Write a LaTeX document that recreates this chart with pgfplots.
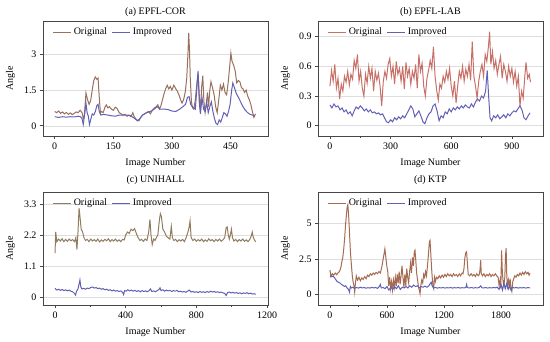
\documentclass[border=0pt]{standalone}
\usepackage{fontspec}
\setmainfont{Liberation Serif}
\usepackage{pgfplots}
\pgfplotsset{compat=1.18}
\definecolor{origA}{RGB}{152,112,92}
\definecolor{origB}{RGB}{198,112,104}
\definecolor{origC}{RGB}{146,124,96}
\definecolor{origD}{RGB}{166,108,82}
\definecolor{impr}{RGB}{98,96,180}
\definecolor{frame}{RGB}{70,70,70}
\pgfplotsset{
  panel/.style={
    scale only axis, width=225bp, anchor=south west,
    axis line style={draw=frame, line width=0.9pt},
    tick align=outside, tick pos=left,
    tick style={draw=frame, line width=0.6pt},
    major tick length=3bp, minor tick length=2bp,
    minor x tick num=1,
    ymajorgrids, major grid style={draw=black!13, line width=0.5pt},
    /pgf/number format/assume math mode=true,
    /pgf/number format/1000 sep={},
    scaled ticks=false,
    ticklabel style={font=\fontsize{10}{12}\selectfont},
    label style={font=\fontsize{10}{12}\selectfont},
    title style={font=\fontsize{10}{12}\selectfont, at={(0.5,1)}, anchor=center},
    xlabel={Image Number}, ylabel={Angle},
    ylabel style={at={(axis description cs:-0.145,0.5)}, anchor=center},
    legend columns=2,
    legend cell align=left,
    legend style={draw=none, fill=none, at={(0.043,0.975)}, anchor=north west,
      font=\fontsize{10}{12}\selectfont, inner xsep=0pt,
      /tikz/every even column/.append style={column sep=3bp}},
    legend image code/.code={\draw[#1, line width=0.9pt] (0bp,0bp) -- (18bp,0bp);},
  },
  top/.style={height=115bp, xlabel style={at={(axis description cs:0.5,-0.232)}, anchor=center},
    title style={yshift=3bp}},
  bot/.style={height=113bp, xlabel style={at={(axis description cs:0.5,-0.239)}, anchor=center},
    title style={yshift=6bp}},
}
\begin{document}
\begin{tikzpicture}
\path[use as bounding box] (0,0) rectangle (550bp,342bp);
% (a)
\begin{axis}[panel, top, at={(43bp,206bp)}, title={(a) EPFL-COR},
  xmin=-30, xmax=546, ymin=-0.43, ymax=4.4,
  xtick={0,150,300,450}, ytick={0,1.5,3}]
\addplot[origA, line width=1pt] coordinates {
(0,0.60) (5,0.55) (10,0.62) (15,0.52) (20,0.58) (25,0.50) (30,0.56) (35,0.48) (40,0.54) (45,0.47)
(50,0.52) (55,0.58) (60,0.55) (65,0.65) (70,0.55) (73,0.30) (76,0.45) (80,1.38) (84,1.10) (88,0.90)
(92,1.05) (96,1.50) (100,1.90) (104,2.05) (108,1.95) (111,2.00) (114,1.20) (117,0.55) (120,0.60) (124,0.55)
(128,0.75) (132,0.88) (136,0.75) (140,0.80) (145,0.70) (150,0.65) (155,0.78) (160,0.72) (165,0.55) (170,0.50)
(175,0.45) (180,0.48) (185,0.40) (190,0.45) (195,0.38) (200,0.55) (203,0.40) (207,0.30) (212,0.20) (216,0.22)
(220,0.35) (225,0.45) (230,0.50) (235,0.55) (240,0.60) (245,0.50) (250,0.65) (255,0.75) (260,0.80) (264,0.88)
(268,0.70) (272,0.85) (276,1.10) (280,1.35) (284,1.55) (288,1.70) (292,1.55) (296,1.65) (300,1.50) (305,1.70)
(310,1.55) (314,1.45) (318,1.30) (322,1.10) (326,0.95) (330,1.10) (334,1.40) (338,2.00) (341,3.00) (343,3.90)
(345,3.20) (347,2.00) (350,1.00) (353,0.75) (356,0.70) (360,1.10) (364,1.80) (367,2.20) (370,1.30) (373,0.60)
(376,1.60) (379,2.10) (382,1.00) (385,0.55) (388,0.90) (391,1.40) (394,0.80) (397,1.50) (400,1.85) (404,1.60)
(408,1.30) (412,0.80) (416,0.55) (420,1.10) (424,1.70) (428,1.50) (432,1.75) (436,1.40) (440,1.30) (444,1.80)
(448,2.50) (451,3.05) (454,2.70) (458,2.55) (462,2.30) (466,1.80) (470,1.90) (474,1.85) (478,1.60) (482,1.55)
(486,1.40) (490,1.50) (494,1.25) (498,1.10) (502,0.90) (506,0.60) (510,0.35) (514,0.50)
};
\addplot[impr, line width=1pt] coordinates {
(0,0.38) (10,0.35) (20,0.38) (30,0.36) (40,0.38) (50,0.37) (60,0.40) (66,0.38) (70,0.30) (73,0.05)
(76,0.40) (80,0.95) (83,0.55) (86,0.40) (89,0.05) (92,0.25) (96,0.50) (100,0.45) (104,0.60) (108,0.85)
(111,0.90) (114,0.60) (118,0.45) (125,0.48) (135,0.45) (145,0.42) (155,0.40) (165,0.45) (175,0.45) (185,0.45)
(195,0.42) (205,0.30) (212,0.22) (218,0.30) (225,0.45) (235,0.55) (245,0.60) (255,0.70) (262,0.80) (270,0.70)
(280,0.70) (290,0.68) (300,0.62) (310,0.60) (320,0.70) (328,0.80) (335,0.90) (340,1.20) (344,1.22) (348,0.90)
(352,0.80) (356,0.75) (360,0.70) (364,1.60) (367,2.30) (370,1.00) (373,0.50) (377,1.20) (381,0.70) (385,0.60)
(389,1.00) (393,0.55) (397,0.80) (401,1.00) (405,0.60) (409,0.30) (413,0.10) (417,0.05) (421,0.25) (425,0.15)
(429,0.35) (433,0.55) (437,0.50) (441,0.40) (445,0.60) (449,0.90) (453,1.50) (456,1.80) (460,1.60) (465,1.35)
(470,1.20) (476,1.00) (482,0.80) (488,0.65) (494,0.55) (500,0.48) (506,0.45) (512,0.42)
};
\legend{Original, Improved}
\end{axis}
% (b)
\begin{axis}[panel, top, at={(318bp,206bp)}, title={(b) EPFL-LAB},
  xmin=-59, xmax=1054, ymin=-0.104, ymax=1.059,
  xtick={0,300,600,900}, ytick={0,0.3,0.6,0.9}]
\addplot[origB, line width=1pt] coordinates {
(0,0.40) (8,0.56) (16,0.45) (24,0.62) (32,0.38) (40,0.48) (48,0.27) (56,0.42) (64,0.35) (72,0.50)
(80,0.44) (88,0.55) (96,0.41) (104,0.52) (112,0.47) (120,0.66) (128,0.58) (136,0.72) (144,0.45) (152,0.55)
(160,0.38) (168,0.30) (176,0.52) (184,0.43) (192,0.60) (200,0.48) (208,0.58) (216,0.35) (224,0.55) (232,0.46)
(240,0.53) (248,0.40) (256,0.20) (264,0.45) (272,0.55) (280,0.48) (288,0.62) (296,0.68) (304,0.50) (312,0.60)
(320,0.42) (328,0.65) (336,0.52) (344,0.58) (352,0.45) (360,0.60) (368,0.37) (376,0.64) (384,0.50) (392,0.58)
(400,0.42) (408,0.55) (416,0.48) (424,0.62) (432,0.38) (440,0.72) (448,0.55) (456,0.63) (464,0.40) (472,0.30)
(480,0.48) (488,0.56) (496,0.66) (504,0.58) (512,0.80) (520,0.50) (528,0.36) (536,0.26) (544,0.42) (552,0.38)
(560,0.50) (568,0.44) (576,0.55) (584,0.47) (592,0.58) (600,0.40) (608,0.30) (616,0.45) (624,0.23) (632,0.40)
(640,0.55) (648,0.48) (656,0.60) (664,0.45) (672,0.57) (680,0.50) (688,0.62) (696,0.46) (704,0.85) (712,0.50)
(720,0.40) (728,0.28) (736,0.45) (744,0.55) (752,0.62) (760,0.50) (768,0.72) (776,0.65) (784,0.80) (790,0.95)
(796,0.62) (804,0.75) (812,0.58) (820,0.66) (828,0.52) (836,0.62) (844,0.70) (852,0.48) (860,0.62) (868,0.55)
(876,0.45) (884,0.60) (892,0.50) (900,0.58) (908,0.44) (916,0.55) (924,0.40) (932,0.50) (940,0.20) (948,0.35)
(956,0.28) (964,0.50) (970,0.64) (978,0.48) (986,0.52) (992,0.44)
};
\addplot[impr, line width=1pt] coordinates {
(0,0.21) (10,0.18) (20,0.22) (30,0.19) (40,0.20) (50,0.16) (60,0.18) (70,0.14) (80,0.16) (90,0.12)
(100,0.14) (110,0.10) (120,0.15) (130,0.19) (140,0.17) (150,0.20) (160,0.18) (170,0.15) (180,0.17) (190,0.14)
(200,0.16) (210,0.13) (220,0.14) (230,0.12) (240,0.13) (250,0.11) (260,0.12) (270,0.08) (280,0.04) (290,0.03)
(300,0.06) (310,0.04) (320,0.08) (330,0.06) (340,0.09) (350,0.07) (360,0.10) (370,0.08) (380,0.12) (390,0.16)
(400,0.20) (410,0.17) (420,0.09) (430,0.12) (440,0.15) (450,0.10) (460,0.04) (470,0.02) (480,0.08) (490,0.12)
(500,0.14) (510,0.20) (520,0.22) (530,0.15) (540,0.05) (550,0.10) (560,0.08) (570,0.14) (580,0.12) (590,0.17)
(600,0.14) (610,0.18) (620,0.16) (630,0.19) (640,0.17) (650,0.20) (660,0.18) (670,0.21) (680,0.19) (690,0.18)
(700,0.22) (710,0.19) (720,0.24) (730,0.27) (740,0.25) (750,0.30) (760,0.28) (770,0.35) (778,0.56) (785,0.30)
(792,0.08) (800,0.05) (810,0.10) (820,0.08) (830,0.11) (840,0.07) (850,0.09) (860,0.11) (870,0.08) (880,0.12)
(890,0.10) (900,0.13) (910,0.15) (920,0.14) (930,0.17) (940,0.20) (950,0.16) (960,0.08) (970,0.06) (980,0.10)
(990,0.13)
};
\legend{Original, Improved}
\end{axis}
% (c)
\begin{axis}[panel, bot, at={(43bp,37bp)}, title={(c) UNIHALL},
  xmin=-68, xmax=1205, ymin=-0.29, ymax=3.72,
  xtick={0,400,800,1200}, ytick={0,1.1,2.2,3.3}]
\addplot[origC, line width=1pt] coordinates {
(0,1.55) (4,2.30) (10,1.95) (20,2.05) (30,1.98) (40,2.06) (50,1.96) (60,2.04) (70,1.97) (80,2.05)
(90,1.99) (100,2.03) (110,1.96) (118,2.10) (124,1.68) (130,2.30) (136,3.15) (142,2.80) (148,2.40) (156,2.30)
(164,2.10) (172,2.00) (182,2.04) (192,1.96) (202,2.05) (212,1.98) (222,2.03) (232,1.97) (242,2.05) (252,1.95)
(262,2.02) (272,1.97) (282,2.04) (292,1.99) (302,2.06) (312,1.96) (322,2.03) (332,1.98) (342,2.05) (352,1.97)
(362,2.02) (372,1.96) (382,2.04) (392,2.02) (400,2.20) (410,2.30) (420,2.25) (430,2.40) (440,2.35) (450,2.42)
(460,2.25) (470,2.10) (480,2.00) (490,2.04) (500,1.97) (510,2.05) (520,2.00) (530,2.30) (537,2.75) (543,2.20)
(550,1.85) (558,2.05) (566,2.00) (574,2.10) (582,2.20) (590,2.70) (596,2.95) (602,2.85) (610,2.40) (620,2.30)
(630,2.15) (640,2.10) (650,2.05) (658,2.50) (664,2.10) (672,2.00) (682,2.04) (692,1.96) (702,2.03) (712,1.98)
(722,2.04) (732,1.96) (742,2.10) (752,2.30) (758,2.45) (764,2.70) (770,2.10) (780,2.00) (790,2.05) (800,1.97)
(810,2.03) (820,1.98) (830,2.05) (840,1.96) (850,2.02) (860,1.97) (870,2.06) (880,1.99) (890,2.03) (900,1.96)
(910,2.04) (920,1.98) (930,2.05) (940,1.97) (950,2.02) (960,2.10) (968,2.45) (974,2.48) (980,2.20) (986,2.05)
(992,2.20) (998,2.40) (1004,2.10) (1012,1.98) (1022,2.04) (1032,1.96) (1042,2.03) (1052,1.98) (1062,2.05) (1072,1.97)
(1082,2.02) (1092,1.96) (1102,2.04) (1110,2.15) (1116,2.30) (1122,2.10) (1130,2.00) (1136,1.95)
};
\addplot[impr, line width=1pt] coordinates {
(0,0.30) (10,0.24) (20,0.27) (30,0.23) (40,0.26) (50,0.22) (60,0.25) (70,0.21) (80,0.24) (90,0.20)
(100,0.18) (110,0.12) (116,0.06) (122,0.20) (130,0.28) (136,0.45) (141,0.60) (146,0.35) (152,0.28) (162,0.30)
(172,0.27) (182,0.31) (192,0.29) (202,0.33) (212,0.35) (222,0.31) (232,0.33) (242,0.29) (252,0.31) (262,0.27)
(272,0.29) (282,0.25) (292,0.27) (302,0.23) (312,0.25) (322,0.21) (332,0.24) (342,0.20) (352,0.22) (362,0.19)
(372,0.21) (382,0.16) (388,0.08) (394,0.22) (402,0.20) (412,0.25) (422,0.21) (432,0.24) (442,0.20) (452,0.23)
(462,0.19) (472,0.22) (482,0.18) (492,0.22) (502,0.19) (512,0.21) (522,0.18) (532,0.22) (540,0.28) (548,0.19)
(558,0.21) (568,0.18) (578,0.22) (588,0.26) (594,0.32) (600,0.22) (610,0.25) (620,0.20) (630,0.24) (640,0.21)
(650,0.23) (660,0.19) (670,0.22) (680,0.20) (690,0.23) (700,0.18) (710,0.20) (720,0.17) (730,0.19) (740,0.16)
(750,0.20) (760,0.24) (770,0.17) (780,0.19) (790,0.16) (800,0.18) (810,0.15) (820,0.19) (830,0.16) (840,0.18)
(850,0.15) (860,0.19) (870,0.16) (880,0.20) (890,0.17) (900,0.19) (910,0.16) (920,0.18) (930,0.15) (940,0.17)
(950,0.14) (960,0.12) (968,0.05) (976,0.15) (986,0.17) (996,0.14) (1006,0.16) (1016,0.13) (1026,0.15) (1036,0.12)
(1046,0.14) (1056,0.11) (1066,0.14) (1076,0.12) (1086,0.15) (1096,0.11) (1106,0.13) (1116,0.10) (1126,0.11) (1136,0.09)
};
\legend{Original, Improved}
\end{axis}
% (d)
\begin{axis}[panel, bot, at={(318bp,37bp)}, title={(d) KTP},
  xmin=-126, xmax=2242, ymin=-0.75, ymax=7.2,
  xtick={0,600,1200,1800}, ytick={0,2.5,5}]
\addplot[origD, line width=1pt] coordinates {
(0,1.70) (10,1.25) (25,1.45) (40,1.35) (55,1.50) (70,1.38) (85,1.52) (100,1.60) (115,1.90) (125,2.30)
(135,2.60) (145,3.20) (155,4.00) (165,5.00) (172,5.50) (180,6.10) (188,6.30) (196,5.60) (205,4.40) (215,3.00)
(225,2.10) (235,1.30) (242,0.95) (252,0.60) (260,0.15) (268,0.80) (277,1.30) (290,1.00) (305,1.20) (320,0.95)
(335,1.15) (350,1.05) (365,1.25) (380,1.10) (395,1.35) (410,1.25) (425,1.45) (440,1.35) (455,1.50) (470,1.40)
(485,1.55) (500,1.45) (515,1.60) (530,1.50) (545,1.90) (558,2.40) (568,2.80) (578,3.20) (588,2.60) (598,2.00)
(608,1.60) (618,0.60) (628,1.20) (638,0.40) (648,0.90) (658,0.30) (668,1.00) (678,0.50) (688,1.20) (698,0.60)
(708,1.40) (718,0.80) (728,1.60) (738,0.70) (748,1.30) (758,2.00) (768,1.20) (778,0.50) (788,1.40) (798,0.60)
(808,1.80) (818,1.20) (828,0.80) (838,1.60) (848,2.20) (858,1.50) (868,2.60) (878,2.00) (888,3.00) (895,3.10)
(902,2.50) (912,1.50) (922,1.00) (932,0.50) (940,0.30) (948,0.05) (956,0.60) (966,1.00) (976,0.80) (986,1.40)
(996,1.20) (1006,1.60) (1016,1.30) (1026,2.00) (1036,2.80) (1046,3.70) (1053,3.80) (1060,3.00) (1068,2.00) (1076,1.20)
(1084,0.60) (1092,0.40) (1100,1.20) (1110,0.90) (1120,1.20) (1135,1.10) (1150,1.30) (1165,1.15) (1180,1.35) (1195,1.20)
(1210,1.40) (1225,1.25) (1240,1.45) (1255,1.30) (1270,1.40) (1285,1.25) (1300,1.45) (1315,1.30) (1330,1.40) (1345,1.25)
(1360,1.45) (1375,1.30) (1390,1.50) (1400,1.45) (1410,1.80) (1420,2.60) (1430,2.95) (1438,3.00) (1446,2.20) (1455,1.40)
(1470,1.30) (1485,1.45) (1500,1.30) (1515,1.40) (1530,1.25) (1545,1.45) (1560,1.30) (1572,1.40) (1580,1.80) (1586,2.40)
(1592,1.50) (1605,1.30) (1620,1.45) (1635,1.25) (1650,1.40) (1665,1.30) (1680,1.45) (1695,1.25) (1710,1.40) (1725,1.30)
(1740,1.45) (1755,1.30) (1770,1.20) (1780,0.60) (1790,1.00) (1798,0.40) (1806,3.10) (1814,1.60) (1822,0.90) (1830,0.60)
(1840,1.20) (1848,2.80) (1854,3.25) (1860,1.50) (1868,0.40) (1878,1.00) (1888,0.60) (1896,1.10) (1905,0.40) (1914,0.20)
(1924,0.90) (1934,1.10) (1944,1.30) (1958,1.20) (1972,1.40) (1986,1.30) (2000,1.50) (2014,1.35) (2028,1.55) (2042,1.40)
(2056,1.60) (2070,1.45) (2084,1.55) (2095,1.35) (2105,1.50)
};
\addplot[impr, line width=1pt] coordinates {
(0,1.30) (15,1.25) (30,1.28) (45,1.20) (60,1.05) (75,0.90) (90,0.85) (105,0.80) (120,0.70) (135,0.65)
(150,0.55) (165,0.60) (180,0.45) (195,0.35) (205,0.15) (215,0.55) (225,0.45) (240,0.50) (260,0.42) (280,0.48)
(300,0.44) (320,0.50) (340,0.45) (360,0.48) (380,0.43) (400,0.47) (420,0.44) (440,0.49) (460,0.45) (480,0.48)
(500,0.42) (520,0.55) (530,0.70) (540,0.45) (560,0.48) (580,0.40) (600,0.55) (620,0.30) (640,0.50) (660,0.35)
(680,0.55) (700,0.40) (720,0.60) (740,0.35) (760,0.50) (780,0.45) (800,0.55) (820,0.45) (840,0.60) (860,0.50)
(880,0.65) (900,0.55) (920,0.60) (940,0.45) (960,0.55) (980,0.50) (1000,0.58) (1020,0.50) (1040,0.60) (1055,0.75)
(1065,0.85) (1075,0.60) (1090,0.45) (1110,0.48) (1130,0.44) (1150,0.47) (1170,0.45) (1190,0.48) (1210,0.44) (1230,0.47)
(1250,0.45) (1270,0.48) (1290,0.44) (1310,0.47) (1330,0.45) (1350,0.48) (1370,0.44) (1390,0.47) (1410,0.45) (1430,0.48)
(1438,0.70) (1446,0.47) (1470,0.45) (1490,0.48) (1510,0.44) (1530,0.47) (1550,0.45) (1570,0.48) (1586,0.60) (1600,0.46)
(1620,0.45) (1640,0.48) (1660,0.44) (1680,0.47) (1700,0.45) (1720,0.48) (1740,0.46) (1760,0.50) (1780,0.35) (1800,0.70)
(1815,0.30) (1830,0.80) (1845,0.40) (1860,0.75) (1875,0.35) (1890,0.60) (1905,0.30) (1920,0.50) (1940,0.45) (1960,0.48)
(1980,0.44) (2000,0.47) (2020,0.45) (2040,0.48) (2060,0.44) (2080,0.47) (2105,0.46)
};
\legend{Original, Improved}
\end{axis}
\end{tikzpicture}
\end{document}
